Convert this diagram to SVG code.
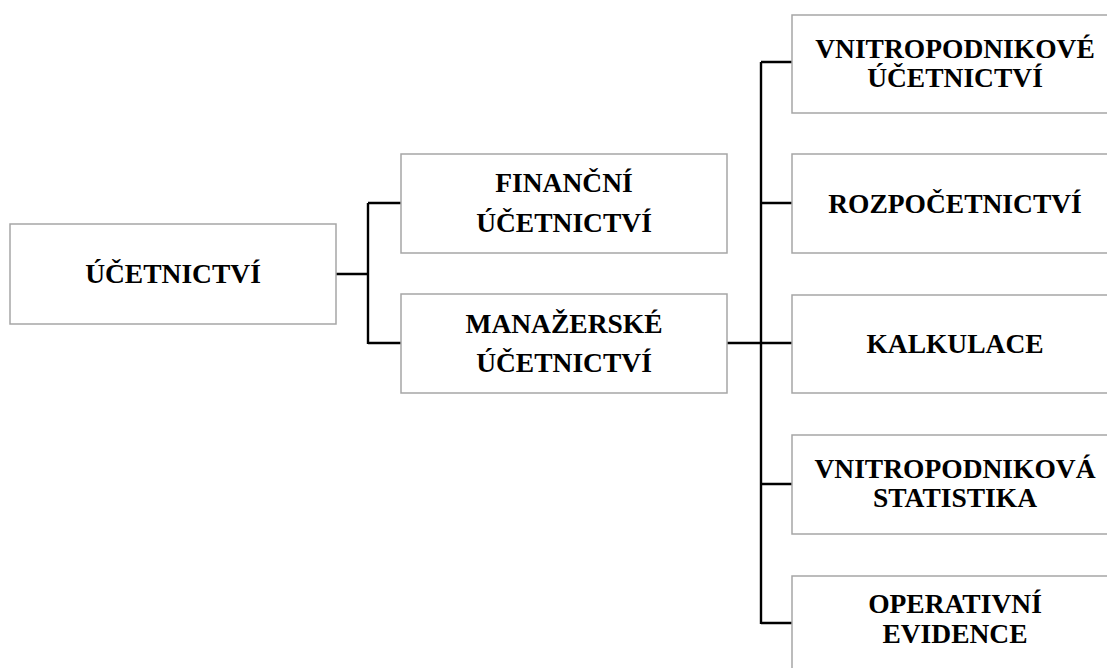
<svg xmlns="http://www.w3.org/2000/svg" width="1107" height="668" viewBox="0 0 1107 668">
<style>
.box{fill:#fff;stroke:#a6a6a6;stroke-width:1.5}
.t{font-family:"Liberation Serif","Times New Roman",serif;font-weight:bold;font-size:27.5px;fill:#000;text-anchor:middle}
.c{fill:none;stroke:#000;stroke-width:2.4}
</style>
<rect width="1107" height="668" fill="#fff"/>
<g id="connectors">
<path class="c" d="M336,274 H368 M368,203 V344 M368,203 H401 M368,343 H401"/>
<path class="c" d="M727,343 H761 M761,62 V624 M761,62 H792 M761,203 H792 M761,343 H792 M761,484 H792 M761,623 H792"/>
</g>
<g id="n-ucetnictvi">
<rect class="box" x="10" y="224" width="326" height="100"/>
<text class="t" x="173" y="283">ÚČETNICTVÍ</text>
</g>
<g id="n-financni">
<rect class="box" x="401" y="154" width="326" height="99"/>
<text class="t" x="564" y="192">FINANČNÍ</text>
<text class="t" x="564" y="232">ÚČETNICTVÍ</text>
</g>
<g id="n-manazerske">
<rect class="box" x="401" y="294" width="326" height="99"/>
<text class="t" x="564" y="333">MANAŽERSKÉ</text>
<text class="t" x="564" y="372">ÚČETNICTVÍ</text>
</g>
<g id="n-vnitropodnikove">
<rect class="box" x="792" y="15" width="326" height="98"/>
<text class="t" x="955" y="58">VNITROPODNIKOVÉ</text>
<text class="t" x="955" y="87">ÚČETNICTVÍ</text>
</g>
<g id="n-rozpocetnictvi">
<rect class="box" x="792" y="154" width="326" height="99"/>
<text class="t" x="955" y="213">ROZPOČETNICTVÍ</text>
</g>
<g id="n-kalkulace">
<rect class="box" x="792" y="295" width="326" height="98"/>
<text class="t" x="955" y="353">KALKULACE</text>
</g>
<g id="n-statistika">
<rect class="box" x="792" y="435" width="326" height="99"/>
<text class="t" x="955" y="478">VNITROPODNIKOVÁ</text>
<text class="t" x="955" y="507">STATISTIKA</text>
</g>
<g id="n-operativni">
<rect class="box" x="792" y="576" width="326" height="99"/>
<text class="t" x="955" y="613">OPERATIVNÍ</text>
<text class="t" x="955" y="643">EVIDENCE</text>
</g>
</svg>
